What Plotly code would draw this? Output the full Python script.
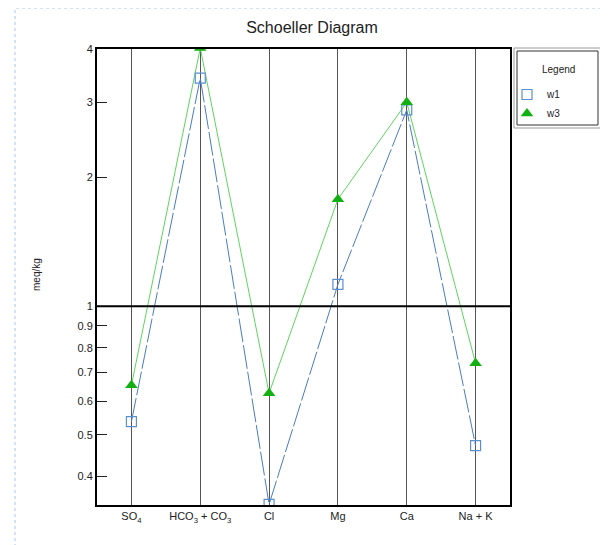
import plotly.graph_objects as go

categories = ["SO<sub>4</sub>", "HCO<sub>3</sub> + CO<sub>3</sub>", "Cl", "Mg", "Ca", "Na + K"]
w1_values = [0.537, 3.42, 0.344, 1.125, 2.88, 0.472]
w3_values = [0.653, 4.02, 0.626, 1.78, 3.0, 0.736]
y_tickvals = [0.4, 0.5, 0.6, 0.7, 0.8, 0.9, 1, 2, 3, 4]
y_ticktext = ["0.4", "0.5", "0.6", "0.7", "0.8", "0.9", "1", "2", "3", "4"]

BLUE_LINE = "#4a7cc0"
BLUE_MARK = "#5b8fd0"
GREEN_LINE = "#5fd35f"
GREEN_MARK = "#12b012"
FONT = "Liberation Sans, Arial, sans-serif"

fig = go.Figure()
# lines
fig.add_trace(go.Scatter(x=categories, y=w3_values, mode="lines",
                         line=dict(color=GREEN_LINE, width=1), showlegend=False, hoverinfo="skip"))
fig.add_trace(go.Scatter(x=categories, y=w1_values, mode="lines",
                         line=dict(color=BLUE_LINE, width=1, dash="24px,3px"), showlegend=False, hoverinfo="skip"))
# markers
fig.add_trace(go.Scatter(x=categories, y=w1_values, mode="markers", name="w1",
                         marker=dict(symbol="square-open", size=10, color=BLUE_MARK, line=dict(width=1.2))))
fig.add_trace(go.Scatter(x=categories, y=w3_values, mode="markers", name="w3",
                         marker=dict(symbol="triangle-up", size=11, color=GREEN_MARK)))

# page body has an 8px default margin; figure placed so that screen coordinates match
OFF = 8
W, H = 608 - OFF, 545 - OFF
# plot area in screen pixels: x 97..510, y 49..505
SX0, SX1, SY0, SY1 = 97, 510, 49, 505
L, T = SX0 - OFF, SY0 - OFF
R = W - (SX1 - OFF)
B = H - (SY1 - OFF)
pw, ph = W - L - R, H - T - B

def px_x(px):
    return (px - SX0) / pw

def px_y(py):
    return (SY1 - py) / ph

shapes = [
    # outer dotted frame
    dict(type="rect", xref="paper", yref="paper", x0=px_x(15), x1=px_x(640), y0=px_y(580), y1=px_y(8),
         line=dict(color="#a9c8e8", width=1, dash="dot"), layer="below"),
    # line at 1
    dict(type="line", xref="paper", yref="y", x0=0, x1=1, y0=1, y1=1, line=dict(color="black", width=2)),
    # legend boxes
    dict(type="rect", xref="paper", yref="paper", x0=px_x(514), x1=px_x(601), y0=px_y(128), y1=px_y(48),
         line=dict(color="#9a9a9a", width=1)),
    dict(type="rect", xref="paper", yref="paper", x0=px_x(517), x1=px_x(598), y0=px_y(125), y1=px_y(51),
         line=dict(color="#333333", width=1)),
]

fig.update_layout(
    width=W, height=H,
    margin=dict(l=L, r=R, t=T, b=B),
    paper_bgcolor="white", plot_bgcolor="white",
    font=dict(family=FONT, size=11, color="#222"),
    title=dict(text="Schoeller Diagram", x=(312 - OFF) / W, xanchor="center",
               y=1 - (27 - OFF) / H, yanchor="middle", font=dict(size=16, color="#222")),
    showlegend=True,
    legend=dict(x=px_x(507), y=px_y(80), xanchor="left", yanchor="top",
                bgcolor="rgba(0,0,0,0)", borderwidth=0, font=dict(size=10),
                tracegroupgap=0, itemwidth=30),
    shapes=shapes,
    annotations=[
        dict(text="Legend", xref="paper", yref="paper", x=px_x(558), y=px_y(70),
             showarrow=False, font=dict(size=10, color="#222"), xanchor="center", yanchor="middle"),
        dict(text="meq/kg", xref="paper", yref="paper", x=px_x(36), y=px_y(275),
             showarrow=False, textangle=-90, font=dict(size=10, color="#222"),
             xanchor="center", yanchor="middle"),
    ],
)

fig.update_xaxes(
    type="category", range=[-0.5, 5.5],
    showgrid=True, gridcolor="#555555", gridwidth=1,
    showline=True, linecolor="black", linewidth=2, mirror=True,
    ticks="", tickfont=dict(size=11), zeroline=False,
)
fig.update_yaxes(
    type="log", range=[-0.465, 0.602],
    tickvals=y_tickvals, ticktext=y_ticktext,
    showgrid=False, showline=True, linecolor="black", linewidth=2, mirror=True,
    ticks="inside", ticklen=10, tickcolor="#222", tickwidth=1,
    tickfont=dict(size=11), zeroline=False,
)

fig.write_html("out.html")
